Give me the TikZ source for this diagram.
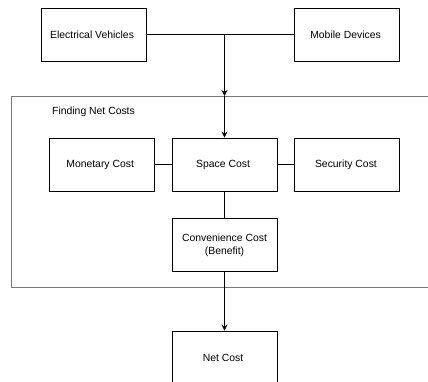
\documentclass[tikz,border=0pt]{standalone}
\usepackage{fontspec}
\setmainfont{Liberation Sans}
\usetikzlibrary{positioning, arrows.meta}
\usepackage{xcolor}
\definecolor{groupcolor}{RGB}{120,120,120}

\begin{document}
\begin{tikzpicture}[x=1pt, y=-1pt]
  \tikzset{
    costbox/.style={
      draw,
      line width=0.9pt,
      minimum width=105pt,
      minimum height=53pt,
      anchor=center,
      align=center,
      font=\fontsize{10.4}{12.5}\selectfont,
      fill=white
    },
    group/.style={
      draw=groupcolor,
      line width=0.9pt
    },
    grouplabel/.style={
      font=\fontsize{10.4}{12.5}\selectfont,
      anchor=west,
      inner sep=0pt
    },
    link/.style={
      line width=0.9pt
    },
    flow/.style={
      line width=0.9pt,
      -{Stealth[length=6pt, width=6pt]}
    }
  }

  % Picture frame (the group runs past the right and lower edge)
  \clip (0, 0) rectangle (428, 382);
  \fill[white] (0, 0) rectangle (428, 382);

  % The group of costs
  \draw[group] (11, 96) rectangle (445, 287);
  \coordinate (grouptop) at (224.5, 96);
  \node[grouplabel] at (52, 112) (title) {Finding Net Costs};

  % Sources
  \node[costbox] at (93.5, 34.5) (vehicles) {
      Electrical Vehicles
  };
  \node[costbox] at (347, 34.5) (mobile) {
      Mobile Devices
  };
  \coordinate (join) at (224.5, 34.5);

  % Costs inside the group
  \node[costbox] at (224.5, 164.5) (space) {
      Space Cost
  };
  \node[costbox, left=17pt of space] (monetary) {
      Monetary Cost
  };
  \node[costbox, right=17pt of space] (security) {
      Security Cost
  };
  \node[costbox, below=27pt of space] (convenience) {
      Convenience Cost\\(Benefit)
  };

  % Result
  \node[costbox] at (224.5, 357.5) (net) {
      Net Cost
  };

  % Connectors
  \draw[link] (vehicles.east) -- (mobile.west);
  \draw[flow] (join) -- (grouptop);
  \draw[flow] (grouptop) -- (space.north);
  \draw[link] (monetary.east) -- (space.west);
  \draw[link] (space.east) -- (security.west);
  \draw[link] (space.south) -- (convenience.north);
  \draw[flow] (convenience.south) -- (net.north);

\end{tikzpicture}
\end{document}
